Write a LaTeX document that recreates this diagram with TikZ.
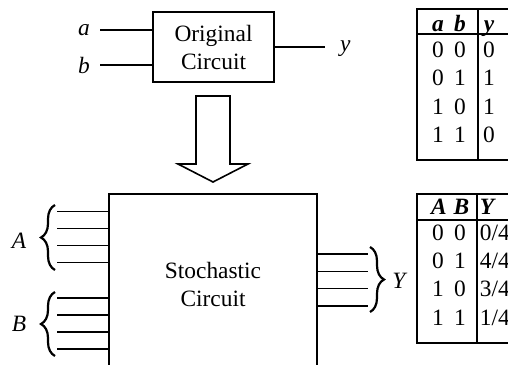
\documentclass[tikz,border=0pt]{standalone}
\usepackage{fontspec}
\setmainfont{Liberation Serif}
\usetikzlibrary{positioning,decorations.pathreplacing}

\tikzset{
  block/.style={draw, line width=0.8pt, align=center, inner sep=0pt},
  wire/.style={line width=0.75pt},
  curly/.style={decorate, decoration={brace, amplitude=7pt}, line width=1.1pt},
  cell/.style={anchor=base, inner sep=0pt},
  frame/.style={line width=0.8pt},
}

\begin{document}
\begin{tikzpicture}[x=0.5pt, y=-0.5pt, font=\fontsize{11.7}{14}\selectfont]
  \useasboundingbox (0,0) rectangle (508,364);
  \clip (0,0) rectangle (508,364);

  % Original circuit
  \node [block, minimum width=60.5pt, minimum height=35pt] (orig) at (213.5,47) {Original\\Circuit};
  \coordinate (ina) at (100,30);
  \coordinate (inb) at (100,65);
  \coordinate (outy) at (325,47);
  \draw [wire] (ina) -- (ina -| orig.west);
  \draw [wire] (inb) -- (inb -| orig.west);
  \draw [wire] (orig.east |- outy) -- (outy);
  \node [left=1.5pt of ina] (la) {\textit{a}};
  \node [left=1.5pt of inb] (lb) {\textit{b}};
  \node [right=4pt of outy, yshift=-1pt] (ly) {\textit{y}};

  % Hollow arrow
  \draw [frame] (196,96) -- (230,96) -- (230,164) -- (248,164)
    -- (213,182) -- (178,164) -- (196,164) -- cycle;

  % Stochastic circuit
  \node [block, minimum width=104pt, minimum height=90pt] (stoch) at (213,284) {Stochastic\\Circuit};

  % Input and output bundles
  \foreach \k in {0,...,3} {
    \coordinate (inA\k) at (57, 211.5+17*\k);
    \coordinate (inB\k) at (57, 298+17*\k);
    \coordinate (outY\k) at (368, 254+17.3*\k);
    \draw [wire] (inA\k) -- (inA\k -| stoch.west);
    \draw [wire] (inB\k) -- (inB\k -| stoch.west);
    \draw [wire] (stoch.east |- outY\k) -- (outY\k);
  }

  % Braces
  \draw [curly] (55,270) -- (55,205);
  \draw [curly] (55,356) -- (55,292);
  \draw [curly] (370,247) -- (370,312);
  \node (lA) at (19,241) {\textit{A}};
  \node (lB) at (19,324) {\textit{B}};
  \node (lY) at (400,281) {\textit{Y}};

  % Truth table of the original circuit
  \draw [frame] (417,9) rectangle (540,160);
  \draw [line width=1pt] (417,34) -- (540,34);
  \draw [frame] (478,9) -- (478,160);
  \node [cell] (ha) at (438,32) {\textbf{\textit{a}}};
  \node [cell] (hb) at (460,32) {\textbf{\textit{b}}};
  \node [cell] (hy) at (489,32) {\textbf{\textit{y}}};
  \foreach \p/\q/\o [count=\i] in {0/0/0, 0/1/1, 1/0/1, 1/1/0} {
    \node [cell] (ta\i) at (438, 28.5+28.5*\i) {\p};
    \node [cell] (tb\i) at (460, 28.5+28.5*\i) {\q};
    \node [cell] (ty\i) at (489, 28.5+28.5*\i) {\o};
  }

  % Truth table of the stochastic circuit
  \draw [frame] (417,194) rectangle (540,343);
  \draw [line width=1pt] (417,220) -- (540,220);
  \draw [frame] (477,194) -- (477,343);
  \node [cell] (hA) at (439,214) {\textbf{\textit{A}}};
  \node [cell] (hB) at (461.5,214) {\textbf{\textit{B}}};
  \node [cell] (hY) at (488,214) {\textbf{\textit{Y}}};
  \foreach \p/\q/\o [count=\i] in {0/0/0, 0/1/4, 1/0/3, 1/1/1} {
    \node [cell] (tA\i) at (438, 211.6+28.4*\i) {\p};
    \node [cell] (tB\i) at (460, 211.6+28.4*\i) {\q};
    \node [cell, anchor=base west] (tY\i) at (479.5, 211.6+28.4*\i) {\o/4};
  }
\end{tikzpicture}
\end{document}
